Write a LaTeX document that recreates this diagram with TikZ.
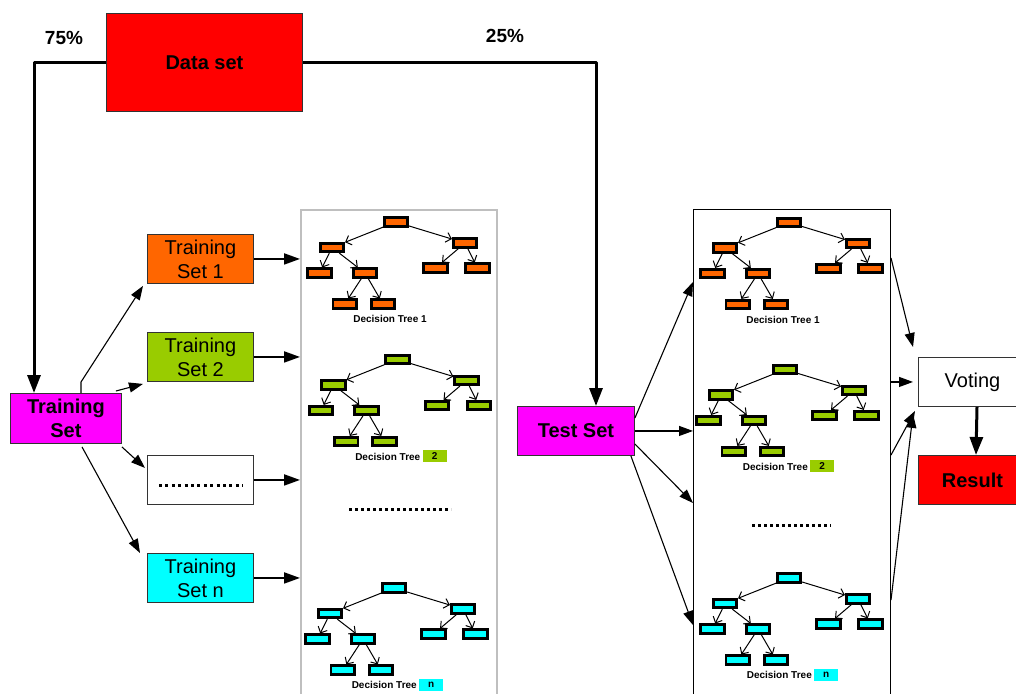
\documentclass[tikz,border=0pt]{standalone}
\usepackage{fontspec}
\setmainfont{Liberation Sans}
\usetikzlibrary{arrows.meta}
\definecolor{corange}{HTML}{FF6600}
\definecolor{cgreen}{HTML}{99CC00}
\definecolor{ccyan}{HTML}{00FFFF}
\definecolor{cmag}{HTML}{FF00FF}
\definecolor{cred}{HTML}{FF0000}
\definecolor{cpanel}{HTML}{BFBFBF}
\tikzset{
 box/.style={draw=black!80, line width=0.9pt, anchor=north west, inner sep=0pt, align=center, font=\fontsize{20}{24}\selectfont},
 tbox/.style={draw=black, line width=2.6pt, minimum width=23.5pt, minimum height=8.5pt, inner sep=0pt},
 tarrow/.style={line width=1pt, -{Straight Barb[length=5pt,width=10pt]}},
 thinarrow/.style={line width=1.1pt, -{Triangle[length=14pt,width=10pt]}},
 medarrow/.style={line width=2pt, -{Triangle[length=16pt,width=11pt]}},
 thickarrow/.style={line width=3pt, line join=round, -{Triangle[length=18pt,width=13pt]}},
 pct/.style={font=\bfseries\fontsize{19}{22}\selectfont},
 dlab/.style={font=\bfseries\fontsize{10}{12}\selectfont, inner sep=0pt},
 nbox/.style={dlab, minimum width=24pt, minimum height=12pt},
 dotline/.style={line width=3pt, dash pattern=on 3pt off 3.4pt},
 panel/.style={anchor=north west, inner sep=0pt, minimum height=500pt},
}
\newcommand\dtree[4]{%
\begin{scope}[shift={(#2,#3)}]
\node[tbox,fill=#4] (#1r) at (0,0) {};
\node[tbox,fill=#4] (#1a) at (-64,25.5) {};
\node[tbox,fill=#4] (#1b) at (69,21) {};
\node[tbox,fill=#4] (#1c) at (-76.5,51) {};
\node[tbox,fill=#4] (#1d) at (-31,51) {};
\node[tbox,fill=#4] (#1e) at (39.5,46) {};
\node[tbox,fill=#4] (#1f) at (81.5,46) {};
\node[tbox,fill=#4] (#1g) at (-51.3,82) {};
\node[tbox,fill=#4] (#1h) at (-13,82) {};
\draw[tarrow] (#1r) -- (#1a);
\draw[tarrow] (#1r) -- (#1b);
\draw[tarrow] (#1a) -- (#1c);
\draw[tarrow] (#1a) -- (#1d);
\draw[tarrow] (#1d) -- (#1g);
\draw[tarrow] (#1d) -- (#1h);
\draw[tarrow] (#1b) -- (#1e);
\draw[tarrow] (#1b) -- (#1f);
\end{scope}}
\newcommand\dlabone[1]{%
\node[dlab] (#1lab) at ([shift={(-6,97)}]#1r.center) {Decision Tree 1};}
\newcommand\dlabnum[3]{%
\node[dlab, anchor=east] (#1lab) at ([shift={(23,97)}]#1r.center) {Decision Tree};
\node[nbox, fill=#3, anchor=west] (#1num) at ([shift={(25,96.5)}]#1r.center) {#2};}
\begin{document}
\begin{tikzpicture}[x=1pt,y=-1pt]
\useasboundingbox[fill=white] (0,0) rectangle (1016,693);
% panels
\node[panel, draw=cpanel, line width=1.5pt, minimum width=196pt] (lp) at (300,209) {};
\node[panel, draw=black, line width=1pt, minimum width=197pt] (rp) at (693,209) {};
% main boxes
\node[box, fill=cred, minimum width=196pt, minimum height=98pt, font=\bfseries\fontsize{20}{24}\selectfont] (ds) at (106,13) {Data set};
\node[box, fill=cmag, minimum width=111pt, minimum height=50pt, font=\bfseries\fontsize{20}{24}\selectfont] (trs) at (10,393) {Training\\Set};
\node[box, fill=corange, minimum width=106pt, minimum height=49pt] (ts1) at (147,234) {Training\\Set 1};
\node[box, fill=cgreen, minimum width=106pt, minimum height=49pt] (ts2) at (147,332) {Training\\Set 2};
\node[box, fill=white, minimum width=106pt, minimum height=49pt] (dots) at (147,455) {};
\node[box, fill=ccyan, minimum width=106pt, minimum height=49pt] (tsn) at (147,553) {Training\\Set n};
\node[box, fill=cmag, minimum width=117pt, minimum height=49pt, font=\bfseries\fontsize{20}{24}\selectfont] (tst) at (517,406) {Test Set};
\node[box, fill=white, minimum width=108pt, minimum height=49pt] (vot) at (918,357) {Voting};
\node[box, fill=cred, minimum width=108pt, minimum height=49pt, font=\bfseries\fontsize{20}{24}\selectfont] (res) at (918,455) {Result};
\node[pct] (p75) at (64,38) {75\%};
\node[pct] (p25) at (505,36) {25\%};
% dotted lines
\draw[dotline] ([shift={(12,5.5)}]dots.west) -- ([shift={(-11,5.5)}]dots.east);
\draw[line width=3pt, dash pattern=on 3pt off 3pt] (349,509) -- (451,509);
\draw[line width=3pt, dash pattern=on 3pt off 3pt] (752,525) -- (831,525);
% thick split arrows
\draw[thickarrow] (ds.west) -| ([xshift=24pt]trs.north west);
\draw[thickarrow] (ds.east) -| ([xshift=79pt]tst.north west);
% training set fan-out
\draw[thinarrow] ([xshift=71pt]trs.north west) -- ++(0,-11) -- ([xshift=-4pt,yshift=-2pt]ts1.south west);
\draw[thinarrow] ([xshift=-6pt,yshift=2pt]trs.north east) -- ([xshift=-4pt,yshift=-2pt]ts2.south west);
\draw[thinarrow] ([yshift=-3pt]trs.south east) -- ([xshift=-2pt,yshift=12pt]dots.west);
\draw[thinarrow] ([xshift=72pt,yshift=-3pt]trs.south west) -- ([xshift=-7pt]tsn.north west);
% into left panel
\draw[medarrow] (ts1.east) -- (ts1.east -| lp.west);
\draw[medarrow] (ts2.east) -- (ts2.east -| lp.west);
\draw[medarrow] (dots.east) -- (dots.east -| lp.west);
\draw[medarrow] (tsn.east) -- (tsn.east -| lp.west);
% test set fan-out
\draw[thinarrow] ([yshift=-12pt]tst.north east) -- ([yshift=-73pt]rp.north west);
\draw[thinarrow] (tst.east) -- (tst.east -| rp.west);
\draw[thinarrow] ([yshift=-38pt]tst.north east) -- ([yshift=-294pt]rp.north west);
\draw[thinarrow] ([xshift=-4pt]tst.south east) -- ([yshift=-416pt]rp.north west);
% into voting
\draw[thinarrow] ([yshift=-49pt]rp.north east) -- ([xshift=-5pt,yshift=10pt]vot.north west);
\draw[thinarrow] (rp.east |- vot.west) -- ([xshift=-5pt]vot.west);
\draw[thinarrow] ([yshift=-246pt]rp.north east) -- ([xshift=-3pt,yshift=-4pt]vot.south west);
\draw[thinarrow] ([yshift=-391pt]rp.north east) -- ([xshift=-5pt,yshift=-7pt]vot.south west);
\draw[thickarrow] ([xshift=59pt]vot.south west) -- ([xshift=58pt]res.north west);
% trees
\dtree{La}{396}{222}{corange}
\dlabone{La}
\dtree{Lb}{397.5}{359.5}{cgreen}
\dlabnum{Lb}{2}{cgreen}
\dtree{Lc}{394}{588}{ccyan}
\dlabnum{Lc}{n}{ccyan}
\dtree{Ra}{789}{222.5}{corange}
\dlabone{Ra}
\dtree{Rb}{785}{369.5}{cgreen}
\dlabnum{Rb}{2}{cgreen}
\dtree{Rc}{789}{578}{ccyan}
\dlabnum{Rc}{n}{ccyan}
\end{tikzpicture}
\end{document}
